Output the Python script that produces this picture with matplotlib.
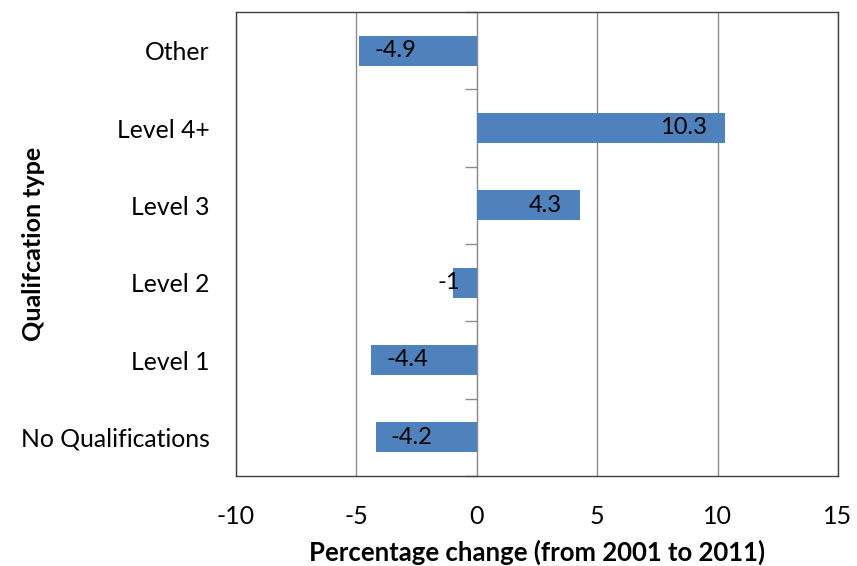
import matplotlib
matplotlib.use("Agg")
import matplotlib.pyplot as plt
import numpy as np

categories = ["No Qualifications", "Level 1", "Level 2", "Level 3", "Level 4+", "Other"]
values = [-4.2, -4.4, -1, 4.3, 10.3, -4.9]
labels = ["-4.2", "-4.4", "-1", "4.3", "10.3", "-4.9"]
xticks = [-10, -5, 0, 5, 10, 15]

plt.rcParams["font.family"] = ["Lato", "DejaVu Sans"]

fig = plt.figure(figsize=(8.57, 5.66), dpi=100)
ax = fig.add_axes([236 / 857, 1 - 476 / 566, (838 - 236) / 857, (476 - 12) / 566])

y = np.arange(len(categories))
ax.barh(y, values, height=0.39, color="#4F81BD", zorder=3)

# labels at the inside end of each bar; too-short bars get theirs next to the axis
for yi, v, lab in zip(y, values, labels):
    if abs(v) < 2:
        anchor, dx, ha = 0, -12 if v < 0 else 12, "right" if v < 0 else "left"
    elif v < 0:
        anchor, dx, ha = v, 11, "left"
    else:
        anchor, dx, ha = v, -13, "right"
    ax.annotate(lab, (anchor, yi), xytext=(dx, 0), textcoords="offset points",
                ha=ha, va="center", fontsize=17, color="black", zorder=4)

ax.set_xlim(-10, 15)
ax.set_ylim(-0.5, len(categories) - 0.5)
ax.set_xticks(xticks)
ax.set_xticklabels([str(t) for t in xticks], fontsize=18)
ax.set_yticks(y)
ax.set_yticklabels(categories, fontsize=17.8)
ax.tick_params(axis="x", length=0, pad=21)
ax.tick_params(axis="y", length=0, pad=19)
ax.xaxis.grid(True, color="#8c8c8c", linewidth=1, zorder=0)

for s in ax.spines.values():
    s.set_color("#404040")
    s.set_linewidth(1)

# category axis drawn at zero, with tick marks between categories
zero_frac = (0 - (-10)) / (15 - (-10))
sec = ax.secondary_yaxis(zero_frac)
sec.set_yticks(np.arange(len(categories) + 1) - 0.5)
sec.set_yticklabels([])
sec.tick_params(axis="y", direction="out", length=9, color="#8c8c8c", width=1)
sec.spines["left"].set_color("#8c8c8c")

ax.set_xlabel("Percentage change (from 2001 to 2011)", fontsize=18.5,
              fontweight="bold", labelpad=8)
ax.set_ylabel("Qualifcation type", fontsize=18, fontweight="bold")
ax.yaxis.set_label_coords(-0.318, 0.5)

fig.savefig("out.png", dpi=100)
